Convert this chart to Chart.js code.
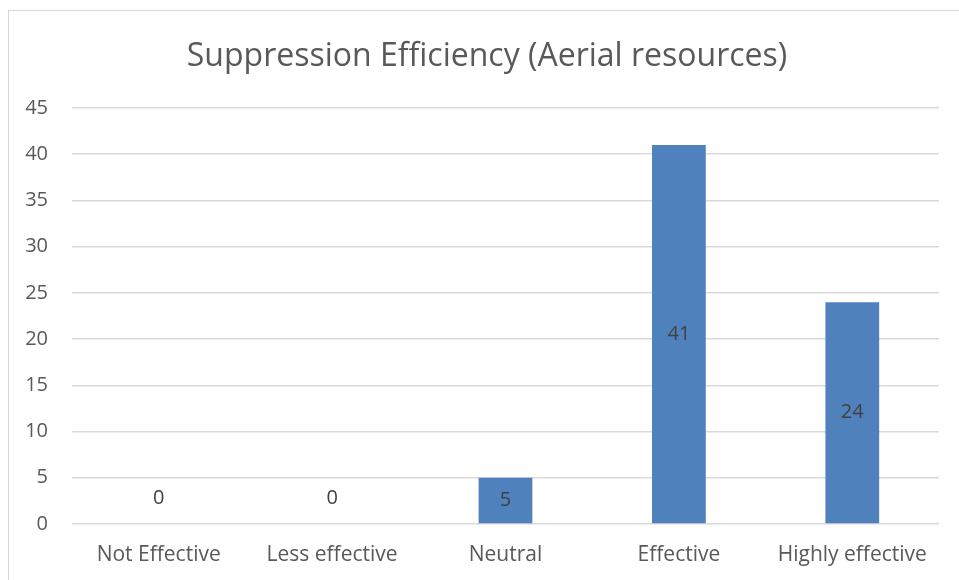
<!DOCTYPE html>
<html>
<head>
<meta charset="utf-8">
<script src="https://cdn.jsdelivr.net/npm/chart.js@4"></script>
<style>
  body { margin: 0; background: #fff; }
  #frame {
    position: absolute; left: 8px; top: 10px; width: 960px; height: 600px;
    border: 1px solid #d9d9d9; box-sizing: border-box;
  }
  #wrap { position: absolute; left: 0; top: 0; width: 959px; height: 580px; }
</style>
</head>
<body>
<div id="frame"></div>
<div id="wrap"><canvas id="chart"></canvas></div>
<script>
// chart data
const categories = ["Not Effective", "Less effective", "Neutral", "Effective", "Highly effective"];
const counts = [0, 0, 5, 41, 24];
const yTicks = [0, 5, 10, 15, 20, 25, 30, 35, 40, 45];
const titleText = "Suppression Efficiency (Aerial resources)";

const FONT = "'Open Sans', sans-serif";

// title is centred on the chart frame, not on the plot, so draw it here
const frameTitle = {
  id: "frameTitle",
  afterDraw(chart) {
    const ctx = chart.ctx;
    ctx.save();
    ctx.font = "32px " + FONT;
    ctx.fillStyle = "#595959";
    ctx.textAlign = "center";
    ctx.textBaseline = "middle";
    ctx.fillText(titleText, 487, 57);
    ctx.restore();
  }
};

// draws the value in the middle of each bar (Excel style)
const barLabels = {
  id: "barLabels",
  afterDatasetsDraw(chart) {
    const ctx = chart.ctx;
    const meta = chart.getDatasetMeta(0);
    ctx.save();
    ctx.font = "20px " + FONT;
    ctx.fillStyle = "#404040";
    ctx.textAlign = "center";
    ctx.textBaseline = "middle";
    meta.data.forEach((bar, i) => {
      const v = counts[i];
      let y = (bar.y + bar.base) / 2;
      if (v === 0) y = bar.base - 26;
      ctx.fillText(String(v), bar.x, y);
    });
    ctx.restore();
  }
};

new Chart(document.getElementById("chart"), {
  type: "bar",
  data: {
    labels: categories,
    datasets: [{
      data: counts,
      backgroundColor: "#4f81bd",
      borderWidth: 0,
      barPercentage: 0.31,
      categoryPercentage: 1
    }]
  },
  options: {
    responsive: true,
    maintainAspectRatio: false,
    animation: false,
    layout: { padding: { left: 0, right: 20, top: 108, bottom: 0 } },
    plugins: {
      legend: { display: false },
      tooltip: { enabled: false },
      title: { display: false }
    },
    scales: {
      x: {
        grid: { display: false },
        border: { display: false },
        ticks: { color: "#595959", font: { family: FONT, size: 21 }, padding: 10 },
        afterFit: s => { s.height = 56; }
      },
      y: {
        min: 0,
        max: 45,
        afterBuildTicks: s => { s.ticks = yTicks.map(v => ({ value: v })); },
        grid: { color: "#d9d9d9", lineWidth: 1.5, drawTicks: false },
        border: { display: false },
        ticks: { color: "#595959", font: { family: FONT, size: 20 }, padding: 24 },
        afterFit: s => { s.width = 72; }
      }
    }
  },
  plugins: [barLabels, frameTitle]
});
</script>
</body>
</html>
